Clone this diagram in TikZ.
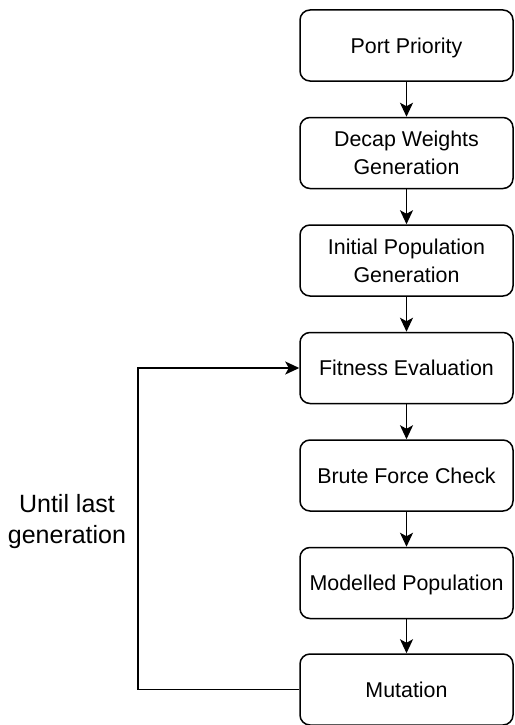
\documentclass[tikz,border=0pt]{standalone}
\usepackage{fontspec}
\setmainfont{Liberation Sans}
\usetikzlibrary{arrows.meta}
\begin{document}
\begin{tikzpicture}[x=1pt,y=-1pt,
  stepbox/.style={draw, line width=1.5pt, rounded corners=10pt, minimum width=213pt, minimum height=71pt, align=center, inner sep=0pt, font=\fontsize{21.4}{28}\selectfont},
  oneline/.style={text height=15.3pt, text depth=0pt},
  conn/.style={line width=1.5pt, -{Stealth[length=14pt,width=13pt,inset=3.5pt]}}]
\useasboundingbox (0,0) rectangle (514,725);
\node[stepbox, oneline] (a) at (406.5,45.5) {Port Priority};
\node[stepbox] (b) at (406.5,153) {Decap Weights\\Generation};
\node[stepbox] (c) at (406.5,260.5) {Initial Population\\Generation};
\node[stepbox, oneline] (d) at (406.5,368) {Fitness Evaluation};
\node[stepbox, oneline] (e) at (406.5,475.5) {Brute Force Check};
\node[stepbox, oneline] (f) at (406.5,583) {Modelled Population};
\node[stepbox, oneline] (g) at (406.5,689.5) {Mutation};
\draw[conn] (a) -- (b);
\draw[conn] (b) -- (c);
\draw[conn] (c) -- (d);
\draw[conn] (d) -- (e);
\draw[conn] (e) -- (f);
\draw[conn] (f) -- (g);
\coordinate (lb) at (138,689.5);
\coordinate (lt) at (138,368);
\draw[conn] (g.west) -- (lb) -- (lt) -- (d.west);
\node[align=center, font=\fontsize{25}{31}\selectfont] (lbl) at (67,522) {Until last\\generation};
\end{tikzpicture}
\end{document}
